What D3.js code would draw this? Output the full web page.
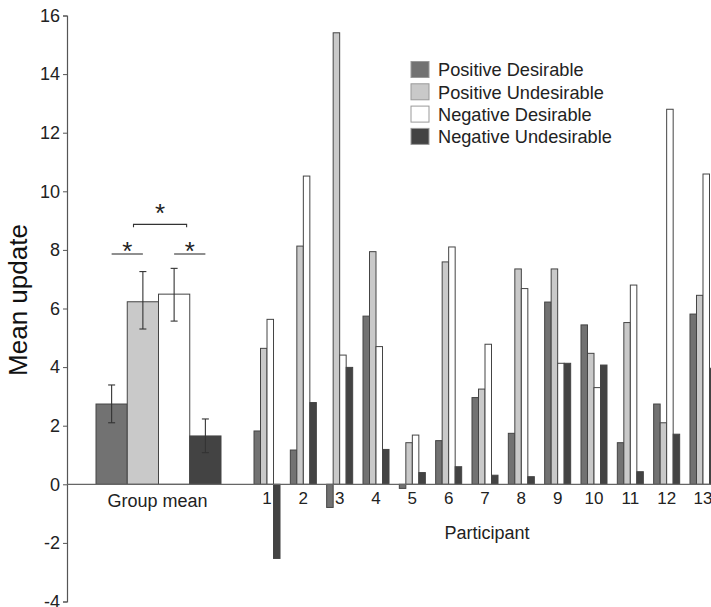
<!DOCTYPE html>
<html><head><meta charset="utf-8">
<script src="https://cdn.jsdelivr.net/npm/d3@7"></script>
<style>body{margin:0;background:#fff;} svg{display:block;font-family:"Liberation Sans",Arial,sans-serif;}</style>
</head><body><svg id="c" width="711" height="607"></svg>
<script>
const series = ["Positive Desirable","Positive Undesirable","Negative Desirable","Negative Undesirable"];
const colors = ["#727272","#c9c9c9","#ffffff","#434343"];
const groupMean = [2.74, 6.23, 6.49, 1.65];
const groupErrLow = [2.10, 5.30, 5.57, 1.08];
const groupErrHigh = [3.39, 7.26, 7.37, 2.23];
const participants = ["1","2","3","4","5","6","7","8","9","10","11","12","13"];
const posDesirable   = [1.82, 1.17, -0.79, 5.74, -0.14, 1.49, 2.96, 1.74, 6.22, 5.44, 1.42, 2.74, 5.81];
const posUndesirable = [4.64, 8.13, 15.41, 7.94, 1.42, 7.59, 3.25, 7.35, 7.35, 4.47, 5.52, 2.10, 6.45];
const negDesirable   = [5.63, 10.52, 4.41, 4.70, 1.68, 8.10, 4.78, 6.68, 4.13, 3.30, 6.80, 12.80, 10.59];
const negUndesirable = [-2.53, 2.79, 3.99, 1.19, 0.40, 0.60, 0.31, 0.26, 4.13, 4.07, 0.43, 1.71, 3.96];
const yTicks = [-4,-2,0,2,4,6,8,10,12,14,16];
const sigPairs = [[0,1,7.86],[2,3,7.86]];

const svg = d3.select("#c");
const y = d3.scaleLinear().domain([-4,16]).range([601.5,15.5]);

// y axis
const ax = svg.append("g").attr("transform","translate(67,0)")
  .call(d3.axisLeft(y).tickValues(yTicks).tickSize(4).tickPadding(3).tickFormat(d=>String(d)));
ax.select(".domain").attr("stroke","#555").attr("stroke-width",1.2);
ax.selectAll(".tick line").attr("stroke","#555");
ax.selectAll(".tick text").attr("font-size",18).attr("fill","#222").attr("font-family","Liberation Sans, Arial, sans-serif");

svg.append("text").attr("transform",`translate(${27},${300}) rotate(-90)`)
  .attr("text-anchor","middle").attr("font-size",26).attr("fill","#111").text("Mean update");

// group mean
const xg = d3.scaleBand().domain(["Group mean"]).range([96,221]).paddingInner(0);
const xgs = d3.scaleBand().domain(series).range([0, xg.bandwidth()]);
const gm = svg.append("g");
gm.selectAll("rect").data(groupMean).join("rect")
  .attr("x",(d,i)=>xg("Group mean")+xgs(series[i]))
  .attr("width",xgs.bandwidth())
  .attr("y",d=>y(Math.max(0,d))).attr("height",d=>Math.abs(y(d)-y(0)))
  .attr("fill",(d,i)=>colors[i]).attr("stroke","#444").attr("stroke-width",1);
groupMean.forEach((d,i)=>{
  const cx = xg("Group mean")+xgs(series[i])+xgs.bandwidth()/2;
  gm.append("line").attr("x1",cx).attr("x2",cx).attr("y1",y(groupErrLow[i])).attr("y2",y(groupErrHigh[i])).attr("stroke","#333").attr("stroke-width",1.1);
  [groupErrLow[i],groupErrHigh[i]].forEach(v=>gm.append("line").attr("x1",cx-3.5).attr("x2",cx+3.5).attr("y1",y(v)).attr("y2",y(v)).attr("stroke","#333").attr("stroke-width",1.1));
});
svg.append("text").attr("x",157.5).attr("y",507).attr("text-anchor","middle").attr("font-size",18).attr("fill","#222").text("Group mean");

// significance
sigPairs.forEach(p=>{
  const a = xg("Group mean")+xgs(series[p[0]])+xgs.bandwidth()/2;
  const b = xg("Group mean")+xgs(series[p[1]])+xgs.bandwidth()/2;
  svg.append("line").attr("x1",a).attr("x2",b).attr("y1",y(p[2])).attr("y2",y(p[2])).attr("stroke","#333").attr("stroke-width",1.1);
  svg.append("text").attr("x",(a+b)/2).attr("y",y(p[2])+6).attr("text-anchor","middle").attr("font-size",26).attr("fill","#222").text("*");
});
{
  const a = xg("Group mean")+xgs(series[1])+xgs.bandwidth()*0.2;
  const b = xg("Group mean")+xgs(series[2])+xgs.bandwidth()*0.9;
  svg.append("path").attr("d",`M${a},${y(8.77)}V${y(8.87)}H${b}V${y(8.77)}`).attr("fill","none").attr("stroke","#333").attr("stroke-width",1.1);
  svg.append("text").attr("x",(a+b)/2).attr("y",y(8.87)-2).attr("text-anchor","middle").attr("font-size",26).attr("fill","#222").text("*");
}

// participants
const xp = d3.scaleBand().domain(participants).range([254,716]).paddingInner(0.284).paddingOuter(0);
const xs = d3.scaleBand().domain(series).range([0,xp.bandwidth()]);
const pdata = [posDesirable,posUndesirable,negDesirable,negUndesirable];
pdata.forEach((arr,si)=>{
  svg.append("g").selectAll("rect").data(arr).join("rect")
    .attr("x",(d,i)=>xp(participants[i])+xs(series[si]))
    .attr("width",xs.bandwidth())
    .attr("y",d=>y(Math.max(0,d))).attr("height",d=>Math.abs(y(d)-y(0)))
    .attr("fill",colors[si]).attr("stroke","#444").attr("stroke-width",1);
});
svg.append("g").selectAll("text").data(participants).join("text")
  .attr("x",d=>xp(d)+xp.bandwidth()/2).attr("y",504)
  .attr("text-anchor","middle").attr("font-size",17).attr("fill","#222").text(d=>d);
svg.append("text").attr("x",487).attr("y",539).attr("text-anchor","middle").attr("font-size",18).attr("fill","#222").text("Participant");

// zero line
svg.append("line").attr("x1",67).attr("x2",711).attr("y1",y(0)).attr("y2",y(0)).attr("stroke","#666").attr("stroke-width",1.2);

// legend
const lg = svg.append("g").attr("transform","translate(411,61.5)");
series.forEach((s,i)=>{
  const g = lg.append("g").attr("transform",`translate(0,${i*22.3})`);
  g.append("rect").attr("width",18).attr("height",16).attr("fill",colors[i]).attr("stroke","#999").attr("stroke-width",1);
  g.append("text").attr("x",27).attr("y",8.5).attr("dy","0.35em").attr("font-size",18.2).attr("fill","#222").text(s);
});
</script></body></html>
